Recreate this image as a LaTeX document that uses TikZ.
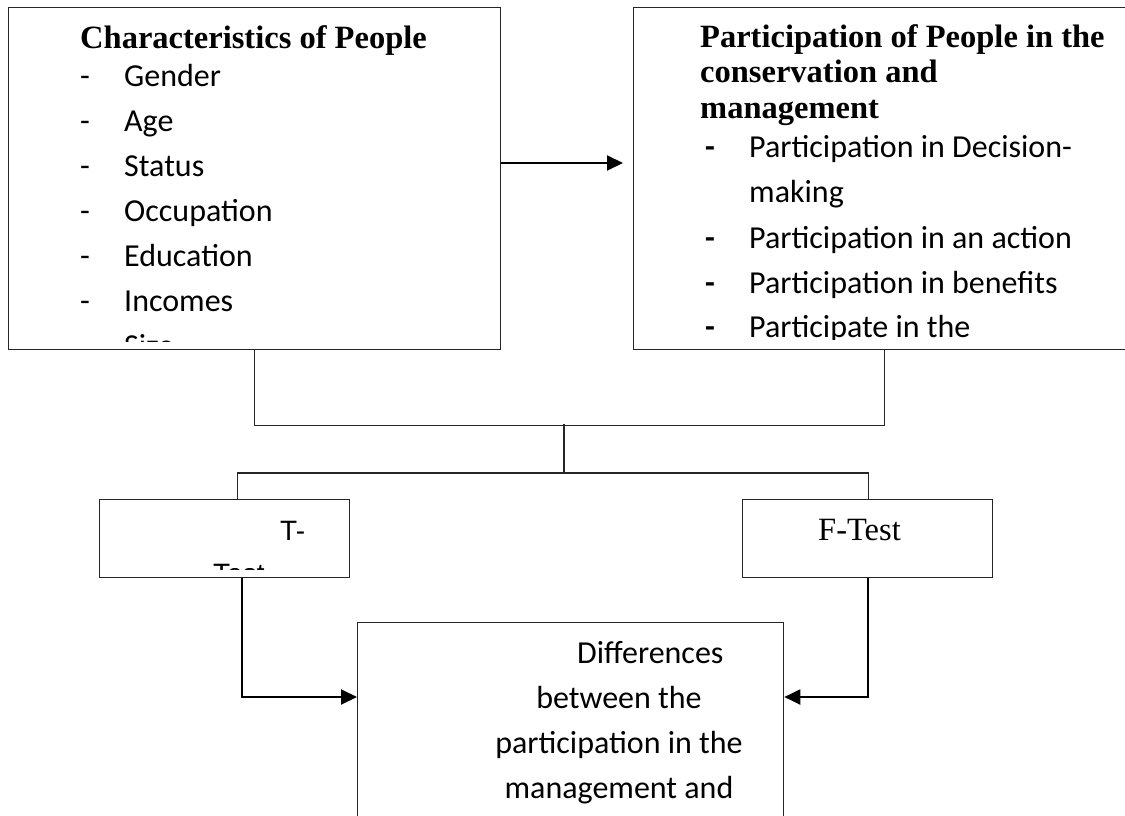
\documentclass[tikz,border=0pt]{standalone}
\usepackage{fontspec}
\setmainfont{Liberation Serif}
\newfontfamily\bodyfont{Carlito}
\newfontfamily\arialfont{Liberation Sans}
\usetikzlibrary{arrows.meta}
\begin{document}
\begin{tikzpicture}[x=1pt,y=-1pt,
  box/.style={draw=black!85, line width=1.3pt, anchor=north west, inner sep=0pt},
  body/.style={font=\bodyfont\fontsize{32}{45}\selectfont, inner sep=0pt, anchor=base west},
  ttl/.style={font=\bfseries\fontsize{32.5}{35}\selectfont, inner sep=0pt, anchor=base west},
  conn/.style={draw=black!85, line width=1.2pt},
  arr/.style={draw=black, line width=2pt, -{Triangle[length=16pt,width=15pt]}}]
\clip (0,0) rectangle (1125,816);
\fill[white] (0,0) rectangle (1125,816);
% boxes
\node[box, minimum width=492pt, minimum height=342pt] (L) at (8,7) {};
\node[box, minimum width=502pt, minimum height=342pt] (R) at (633,7) {};
\node[box, minimum width=250pt, minimum height=78pt] (T) at (99,499) {};
\node[box, minimum width=250pt, minimum height=78pt] (F) at (742,499) {};
\node[box, minimum width=426pt, minimum height=260pt] (B) at (357,622) {};
% left box text
\node[ttl, anchor=base] (lt) at (253.5,49) {Characteristics of People};
\begin{scope}
  \clip ([yshift=9pt]L.south west) rectangle (L.north east);
  \foreach \t [count=\i] in {Gender,Age,Status,Occupation,Education,Incomes,Size}{
    \node[body] (ld\i) at (80,{41+45*\i}) {-};
    \node[body] (li\i) at (124,{41+45*\i}) {\t};
  }
\end{scope}
% right box text
\node[ttl] (rt1) at (700,48) {Participation of People in the};
\node[ttl] (rt2) at (700,83) {conservation and};
\node[ttl] (rt3) at (700,118) {management};
\begin{scope}
  \clip ([yshift=11pt]R.south west) rectangle (R.north east);
  \node[body] (rd1) at (705,157) {\bfseries -};
  \node[body] (ri1) at (749,157) {Participation in Decision-};
  \node[body] (ri1b) at (749,202) {making};
  \node[body] (rd2) at (705,248) {\bfseries -};
  \node[body] (ri2) at (749,248) {Participation in an action};
  \node[body] (rd3) at (705,293) {\bfseries -};
  \node[body] (ri3) at (749,293) {Participation in benefits};
  \node[body] (rd4) at (705,337) {\bfseries -};
  \node[body] (ri4) at (749,337) {Participate in the};
\end{scope}
% T box text
\begin{scope}
  \clip ([yshift=9pt]T.south west) rectangle (T.north east);
  \node[inner sep=0pt, anchor=base west, font=\arialfont\fontsize{28}{43}\selectfont] (tt1) at (280,540) {T-};
  \node[inner sep=0pt, anchor=base west, font=\arialfont\fontsize{28}{43}\selectfont] (tt2) at (213,583) {Test};
\end{scope}
% F box text
\node[inner sep=0pt, anchor=base west, font=\fontsize{32.5}{36}\selectfont] (ft) at (818,540) {F-Test};
% bottom box text
\node[body] (b1) at (577,663) {Differences};
\node[body, anchor=base] (b2) at (619,708) {between the};
\node[body, anchor=base] (b3) at (619,753) {participation in the};
\node[body, anchor=base] (b4) at (619,798) {management and};
% connectors
\draw[arr] (L.east |- 0,163) -- ([xshift=-10pt]R.west |- 0,163);
\draw[conn] (L.south) -- ++(0,75) -| (R.south);
\coordinate (jm) at (564,424);
\draw[conn] (jm) -- ++(0,49);
\draw[conn] ([xshift=13pt]T.north) -- ++(0,-26) -| ([xshift=1pt]F.north);
\draw[arr] ([xshift=17pt]T.south) |- (B.west |- 0,697);
\draw[arr] (F.south) |- (B.east |- 0,697);
\end{tikzpicture}
\end{document}
